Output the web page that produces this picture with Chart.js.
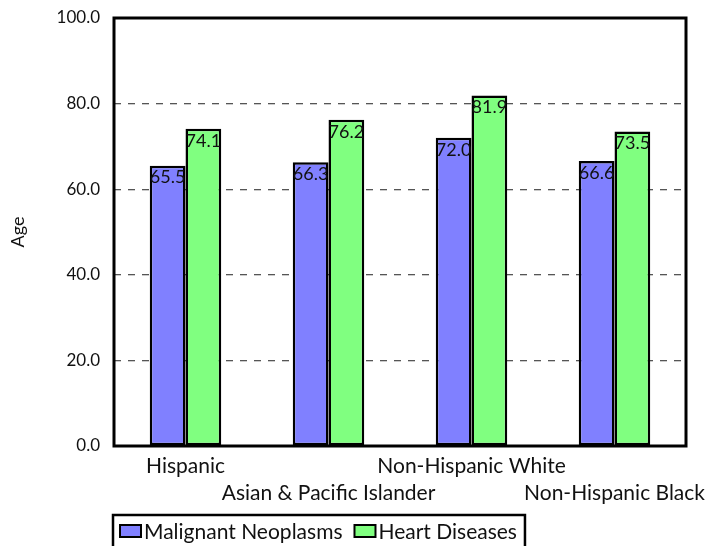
<!DOCTYPE html>
<html>
<head>
<meta charset="utf-8">
<script src="https://cdn.jsdelivr.net/npm/chart.js@4/dist/chart.umd.min.js"></script>
<style>
  html, body { margin: 0; padding: 0; background: #fff; }
  #wrap { width: 709px; height: 546px; }
</style>
</head>
<body>
<div id="wrap"><canvas id="ageChart" width="709" height="546"></canvas></div>
<script>
const categories = ['Hispanic', 'Asian & Pacific Islander', 'Non-Hispanic White', 'Non-Hispanic Black'];
const neoplasms = [65.5, 66.3, 72.0, 66.6];
const heart = [74.1, 76.2, 81.9, 73.5];
const seriesNames = ['Malignant Neoplasms', 'Heart Diseases'];
const seriesColors = ['#8080ff', '#80ff80'];

const FONT = "'Lato', 'Open Sans', sans-serif";

// value labels inside top of each bar + frame + legend
const extras = {
  id: 'extras',
  afterDatasetsDraw(chart) {
    const ctx = chart.ctx;
    ctx.save();
    ctx.fillStyle = '#111';
    ctx.font = '18px ' + FONT;
    ctx.textAlign = 'center';
    ctx.textBaseline = 'top';
    chart.data.datasets.forEach((ds, i) => {
      chart.getDatasetMeta(i).data.forEach((bar, j) => {
        ctx.fillText(ds.data[j].toFixed(1), bar.x, bar.y + 3);
      });
    });
    ctx.restore();
  },
  afterDraw(chart) {
    const ctx = chart.ctx;
    const a = chart.chartArea;
    ctx.save();
    ctx.strokeStyle = '#000';
    ctx.lineWidth = 3;
    ctx.strokeRect(a.left, a.top, a.right - a.left, a.bottom - a.top);

    // legend
    ctx.font = '21px ' + FONT;
    ctx.textBaseline = 'middle';
    ctx.textAlign = 'left';
    let x = a.left + 6;
    const y = 531;
    chart.data.datasets.forEach((ds, i) => {
      ctx.fillStyle = ds.backgroundColor;
      ctx.fillRect(x, y - 6, 21, 12);
      ctx.lineWidth = 2;
      ctx.strokeStyle = '#000';
      ctx.strokeRect(x, y - 6, 21, 12);
      ctx.fillStyle = '#111';
      ctx.fillText(ds.label, x + 24, y + 1);
      x += 24 + ctx.measureText(ds.label).width + 12;
    });
    ctx.lineWidth = 2.5;
    ctx.strokeRect(a.left - 1, 515, x - a.left - 3, 50);
    ctx.restore();
  }
};

new Chart(document.getElementById('ageChart'), {
  type: 'bar',
  data: {
    labels: categories,
    datasets: [
      { label: seriesNames[0], data: neoplasms, backgroundColor: seriesColors[0], borderColor: '#000', borderWidth: 2.5, borderSkipped: false },
      { label: seriesNames[1], data: heart, backgroundColor: seriesColors[1], borderColor: '#000', borderWidth: 2.5, borderSkipped: false }
    ]
  },
  options: {
    responsive: false,
    animation: false,
    layout: { padding: { top: 18, right: 23, left: 0, bottom: 0 } },
    datasets: { bar: { categoryPercentage: 0.5, barPercentage: 1.0 } },
    plugins: { legend: { display: false }, tooltip: { enabled: false } },
    scales: {
      x: {
        grid: { display: false, drawTicks: false },
        border: { display: false },
        afterFit(s) { s.height = 100; s.paddingLeft = 0; s.paddingRight = 0; },
        ticks: {
          maxRotation: 0,
          autoSkip: false,
          padding: 7,
          color: '#111',
          font: { family: FONT, size: 21, lineHeight: 1.29 },
          callback(v, i) { return i % 2 ? ['', categories[i]] : categories[i]; }
        }
      },
      y: {
        min: 0,
        max: 100,
        afterFit(s) { s.width = 114; s.paddingTop = 0; s.paddingBottom = 0; },
        border: { display: false, dash: [7, 7] },
        grid: {
          drawTicks: false,
          color: c => (c.tick.value === 0 || c.tick.value === 100) ? 'rgba(0,0,0,0)' : '#555',
          lineWidth: 1.3
        },
        ticks: {
          stepSize: 20,
          padding: 14,
          color: '#111',
          font: { family: FONT, size: 17 },
          callback: v => v.toFixed(1)
        },
        title: { display: true, text: 'Age', color: '#111', font: { family: FONT, size: 18 }, padding: { top: 7, bottom: 0 } }
      }
    }
  },
  plugins: [extras]
});
</script>
</body>
</html>
